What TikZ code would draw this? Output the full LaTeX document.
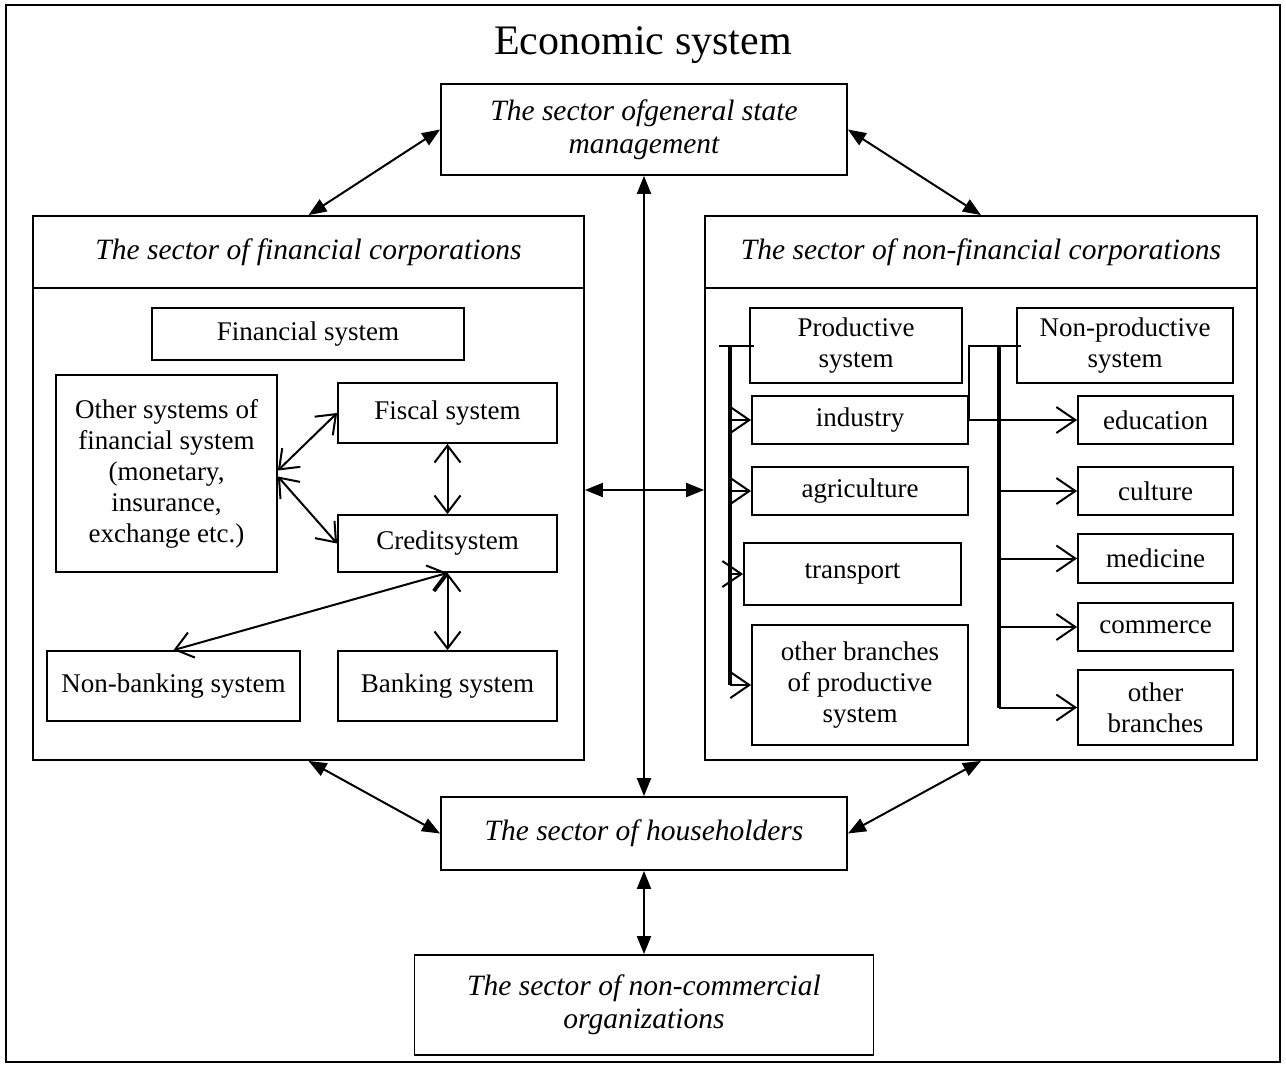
\documentclass[tikz,border=0pt]{standalone}
\usepackage{fontspec}
\setmainfont{Liberation Serif}
\usetikzlibrary{arrows.meta}

\begin{document}
\begin{tikzpicture}[x=1pt,y=-1pt,
    box/.style={draw,line width=1.8pt,align=center,inner sep=2pt,font=\fontsize{27}{31}\selectfont},
    sector/.style={box,font=\fontsize{29.5}{33}\selectfont\itshape},
    link/.style={{Triangle[length=18pt,width=14pt]}-{Triangle[length=18pt,width=14pt]},line width=2pt},
    pair/.style={{Straight Barb[length=17pt,width=26pt]}-{Straight Barb[length=17pt,width=26pt]},line width=2pt},
    branch/.style={-{Straight Barb[length=19pt,width=26pt]},line width=2pt},
    stub/.style={line width=2pt},
    trunk/.style={line width=3.5pt}]
    \useasboundingbox (0,0) rectangle (1286,1069);
    \draw[line width=1.6pt] (6,5) rectangle (1280,1062);

    \node (title) at (643,45) {\fontsize{42}{46}\selectfont Economic system};
    \node[sector,minimum width=406,minimum height=91] (gov) at (644,129.5) {The sector ofgeneral state\\management};

    % financial corporations
    \node[sector,minimum width=551,minimum height=72] (fhead) at (308.5,252) {The sector of financial corporations};
    \node[box,minimum width=551,minimum height=472] (fbody) at (308.5,524) {};
    \node[box,minimum width=312,minimum height=52] (finsys) at (308,334) {Financial system};
    \node[box,minimum width=221,minimum height=197] (other) at (166.5,473.5) {Other systems of\\financial system\\(monetary,\\insurance,\\exchange etc.)};
    \node[box,minimum width=219,minimum height=60] (fiscal) at (447.5,413) {Fiscal system};
    \node[box,minimum width=219,minimum height=57] (credit) at (447.5,543.5) {Creditsystem};
    \node[box,minimum width=253,minimum height=70] (nonbank) at (173.5,686) {Non-banking system};
    \node[box,minimum width=219,minimum height=70] (bank) at (447.5,686) {Banking system};

    % non-financial corporations
    \node[sector,minimum width=552,minimum height=72] (nhead) at (981,252) {The sector of non-financial corporations};
    \node[box,minimum width=552,minimum height=472] (nbody) at (981,524) {};
    \node[box,minimum width=212,minimum height=75] (prod) at (856,345.5) {Productive\\system};
    \node[box,minimum width=216,minimum height=75] (nonprod) at (1125,345.5) {Non-productive\\system};
    \node[box,minimum width=216,minimum height=48] (industry) at (860,420) {industry};
    \node[box,minimum width=216,minimum height=48] (agri) at (860,491) {agriculture};
    \node[box,minimum width=217,minimum height=62] (transport) at (852.5,574) {transport};
    \node[box,minimum width=216,minimum height=120] (otherprod) at (860,685) {other branches\\of productive\\system};
    \node[box,minimum width=155,minimum height=48] (edu) at (1155.5,420) {education};
    \node[box,minimum width=155,minimum height=48] (culture) at (1155.5,491) {culture};
    \node[box,minimum width=155,minimum height=49] (medicine) at (1155.5,558.5) {medicine};
    \node[box,minimum width=155,minimum height=48] (commerce) at (1155.5,627) {commerce};
    \node[box,minimum width=155,minimum height=75] (otherbr) at (1155.5,707.5) {other\\branches};

    \node[sector,minimum width=406,minimum height=73] (house) at (644,833.5) {The sector of householders};
    \node[sector,minimum width=459,minimum height=100] (noncom) at (644,1005) {The sector of non-commercial\\organizations};

    % sectors
    \draw[link] (gov.west) -- (fhead.north);
    \draw[link] (gov.east) -- (nhead.north);
    \draw[link] (gov.south) -- (house.north);
    \draw[link] ([yshift=34pt]fbody.east) -- ([yshift=34pt]nbody.west);
    \draw[link] (fbody.south) -- (house.west);
    \draw[link] (nbody.south) -- (house.east);
    \draw[link] (house.south) -- (noncom.north);

    % financial system
    \draw[pair] ([yshift=3pt]other.east) -- (fiscal.west);
    \draw[pair] ([yshift=-3pt]other.east) -- (credit.west);
    \draw[pair] (fiscal.south) -- (credit.north);
    \draw[pair] (credit.south) -- (bank.north);
    \draw[pair] (credit.south) -- (nonbank.north);

    % productive branches
    \draw[stub] ([xshift=5pt]prod.west) -- ++(-35,0);
    \path (prod.west) ++(-19,0) coordinate (ptrunk);
    \draw[trunk] (ptrunk) -- (ptrunk |- otherprod);
    \foreach \n in {industry,agri,transport,otherprod}
      \draw[branch] (ptrunk |- \n) -- (\n.west);

    % non-productive branches
    \draw[stub] ([xshift=5pt]nonprod.west) -- (industry.east |- nonprod.west) -- (industry.east);
    \draw[branch] (industry.east) -- (edu.west);
    \path (nonprod.west) ++(-17,0) coordinate (ntrunk);
    \draw[trunk] (ntrunk) -- (ntrunk |- otherbr);
    \foreach \n in {culture,medicine,commerce,otherbr}
      \draw[branch] (ntrunk |- \n) -- (\n.west);
\end{tikzpicture}
\end{document}
